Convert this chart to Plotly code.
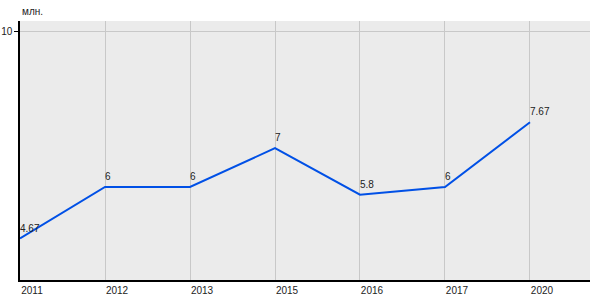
import plotly.graph_objects as go

years = ["2011", "2012", "2013", "2015", "2016", "2017", "2020"]
values = [4.67, 6, 6, 7, 5.8, 6, 7.67]
labels = ["4.67", "6", "6", "7", "5.8", "6", "7.67"]

font = dict(family="Liberation Sans, Arial", size=10, color="#222")

fig = go.Figure()
fig.add_trace(go.Scatter(
    x=list(range(len(years))), y=values, mode="lines",
    line=dict(color="#0050e6", width=2), hoverinfo="skip",
))
annotations = [dict(
    text=lab, x=i, y=v, xref="x", yref="y", xanchor="left", yanchor="bottom",
    xshift=-2, yshift=3, showarrow=False, font=font,
) for i, (v, lab) in enumerate(zip(values, labels))]
annotations.append(dict(
    text="млн.", xref="paper", yref="paper", x=0, y=1, xanchor="left",
    yanchor="bottom", yshift=2, showarrow=False, font=font,
))
fig.update_layout(
    width=600, height=300,
    margin=dict(l=20, r=10, t=21, b=20),
    paper_bgcolor="white", plot_bgcolor="#ebebeb",
    showlegend=False, font=font,
    xaxis=dict(
        range=[0, 6.706], tickmode="array",
        tickvals=list(range(len(years))), ticktext=years,
        showgrid=True, gridcolor="#c8c8c8", gridwidth=1,
        showline=True, linecolor="black", linewidth=1.5,
        ticks="", ticklabelshift=12, zeroline=False, automargin=False,
    ),
    yaxis=dict(
        range=[3.6, 10.28], tickmode="array", tickvals=[10], ticktext=["10"],
        showgrid=True, gridcolor="#c8c8c8", gridwidth=1,
        showline=True, linecolor="black", linewidth=1.5,
        ticks="outside", ticklen=4, tickcolor="black", zeroline=False,
        automargin=False, ticklabelstandoff=0,
    ),
    annotations=annotations,
)
fig.write_html("out.html")
